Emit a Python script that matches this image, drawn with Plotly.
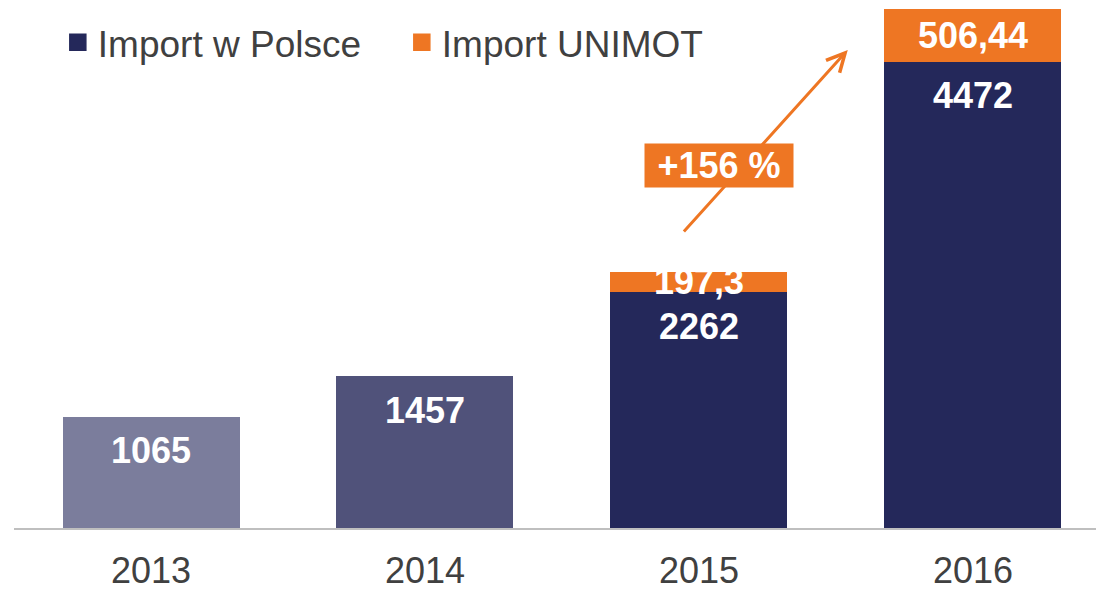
import plotly.graph_objects as go

years = ["2013", "2014", "2015", "2016"]
import_pl = [1065, 1457, 2262, 4472]
unimot_years = ["2015", "2016"]
import_unimot = [197.3, 506.44]
growth_label = "+156 %"

navy_colors = ["#7b7d9c", "#50527a", "#24285a", "#24285a"]
NAVY = "#24285a"
ORANGE = "#ee7623"
FONT = "Liberation Sans, Arial, sans-serif"

fig = go.Figure()
fig.add_trace(go.Bar(x=years, y=import_pl, marker=dict(color=navy_colors, line=dict(width=0)),
                     width=0.646, showlegend=False, hoverinfo="skip"))
fig.add_trace(go.Bar(x=unimot_years, y=import_unimot, marker=dict(color=ORANGE, line=dict(width=0)),
                     width=0.646, name="Import UNIMOT", showlegend=False, hoverinfo="skip"))
# legend entries
fig.add_trace(go.Scatter(x=[None], y=[None], mode="markers", name="Import w Polsce",
                         marker=dict(symbol="square", size=17, color=NAVY, line=dict(color=NAVY, width=1.5))))
fig.add_trace(go.Scatter(x=[None], y=[None], mode="markers", name="Import UNIMOT",
                         marker=dict(symbol="square", size=17, color=ORANGE, line=dict(color=ORANGE, width=1.5))))

annotations = []
for i, v in enumerate(import_pl):
    annotations.append(dict(x=i, y=v, xref="x", yref="y", text=f"<b>{v}</b>", showarrow=False,
                            yanchor="middle", yshift=-34, font=dict(family=FONT, size=36, color="white")))
for yr, v in zip(unimot_years, import_unimot):
    i = years.index(yr)
    annotations.append(dict(x=i, y=import_pl[i] + v / 2, xref="x", yref="y",
                            text="<b>" + str(v).replace(".", ",") + "</b>", showarrow=False,
                            yanchor="middle", font=dict(family=FONT, size=36, color="white")))
# arrow
annotations.append(dict(x=2.543, y=4585, ax=1.94, ay=2830, xref="x", yref="y", axref="x", ayref="y",
                        text="", showarrow=True, arrowhead=5, arrowsize=1.2, arrowwidth=3,
                        arrowcolor=ORANGE, standoff=0, startstandoff=0))
annotations.append(dict(x=2.073, y=3477, xref="x", yref="y", text="<b>" + growth_label + "</b>",
                        showarrow=False, bgcolor=ORANGE, width=146, height=41, borderpad=1,
                        font=dict(family=FONT, size=36, color="white")))

fig.update_layout(
    width=1096, height=590,
    margin=dict(l=14, r=0, t=9, b=62, autoexpand=False),
    barmode="stack",
    plot_bgcolor="white", paper_bgcolor="white",
    font=dict(family=FONT, color="#404040"),
    xaxis=dict(type="category", range=[-0.5, 3.449], showline=True, linecolor="#bfbfbf", linewidth=1.5,
               showgrid=False, ticks="outside", ticklen=10, tickcolor="rgba(0,0,0,0)", automargin=False,
               tickfont=dict(family=FONT, size=36, color="#404040"), fixedrange=True),
    yaxis=dict(range=[0, 4978.44], visible=False, showgrid=False, fixedrange=True, automargin=False),
    legend=dict(orientation="h", x=0.0405, y=0.995, xanchor="left", yanchor="top", traceorder="normal",
                entrywidth=299, entrywidthmode="pixels",
                font=dict(family=FONT, size=37, color="#404040"), bgcolor="rgba(0,0,0,0)"),
    annotations=annotations,
    showlegend=True,
)

fig.write_html("out.html", config=dict(displayModeBar=False),
               post_script="document.body.style.margin='0';")
